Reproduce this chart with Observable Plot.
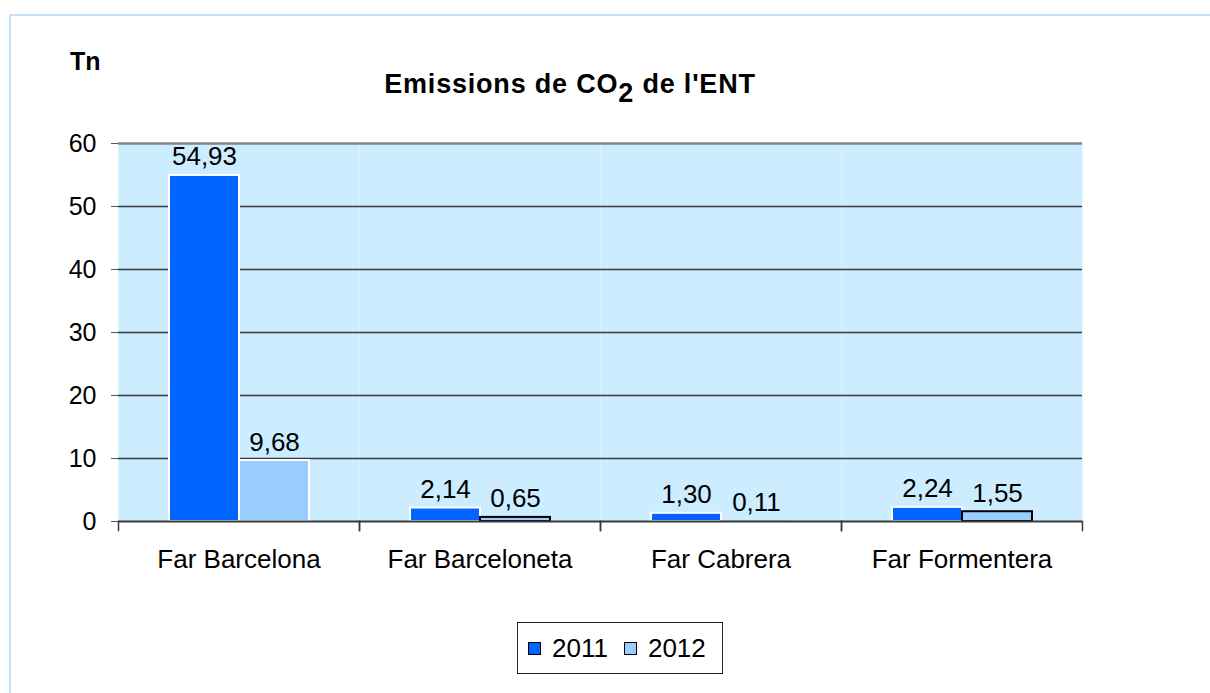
<!DOCTYPE html>
<html>
<head>
<meta charset="utf-8">
<script src="https://cdn.jsdelivr.net/npm/d3@7"></script>
<script src="https://cdn.jsdelivr.net/npm/@observablehq/plot@0.6"></script>
<style>
  html, body { margin: 0; padding: 0; background: #fff; overflow: hidden; }
  #wrap { position: relative; width: 1210px; height: 693px; font-family: "Liberation Sans", Arial, sans-serif; color: #000; }
  #border { position: absolute; left: 9px; top: 14px; width: 1400px; height: 900px; border-top: 2px solid #C4E1FF; border-left: 2px solid #C4E1FF; }
  #tn { position: absolute; left: 70px; top: 49px; font-size: 25px; font-weight: bold; line-height: 1; }
  #title { position: absolute; left: 0; width: 1140px; top: 71px; text-align: center; font-size: 27px; font-weight: bold; line-height: 1; letter-spacing: 0.8px; white-space: nowrap; }
  #title sub { font-size: 27px; vertical-align: -9px; line-height: 0; }
  #chart { position: absolute; left: 0; top: 0; }
  #legend { position: absolute; left: 517px; top: 622px; width: 204px; height: 50px; border: 1.5px solid #222; box-sizing: content-box; display: flex; align-items: center; font-size: 26px; }
  .item { display: flex; align-items: center; margin-left: 10px; }
  .item + .item { margin-left: 16px; }
  .sw { width: 11px; height: 11px; border: 1.5px solid #000; margin-right: 11px; }
</style>
</head>
<body>
<div id="wrap">
  <div id="border"></div>
  <div id="tn">Tn</div>
  <div id="title">Emissions de CO<sub>2</sub> de l'ENT</div>
  <div id="chart"></div>
  <div id="legend"></div>
</div>
<script>
const categories = ["Far Barcelona", "Far Barceloneta", "Far Cabrera", "Far Formentera"];
const years = ["2011", "2012"];
const values2011 = [54.93, 2.14, 1.30, 2.24];
const values2012 = [9.68, 0.65, 0.11, 1.55];
const yTicks = [0, 10, 20, 30, 40, 50, 60];
const colors = ["#0066FF", "#99CCFF"];

const data = categories.flatMap((c, i) => [
  {category: c, year: years[0], value: values2011[i]},
  {category: c, year: years[1], value: values2012[i]}
]);

const fmt = v => d3.format(".2f")(v).replace(".", ",");

const plot = Plot.plot({
  width: 1210,
  height: 600,
  marginTop: 143,
  marginBottom: 79,
  marginLeft: 117,
  marginRight: 127,
  style: {fontFamily: "'Liberation Sans', Arial, sans-serif", background: "transparent", color: "#000"},
  fx: {domain: categories, padding: 0, label: null},
  x: {domain: years, paddingInner: 0, paddingOuter: 0.7, axis: null},
  y: {domain: [0, 60], label: null, axis: null},
  color: {domain: years, range: colors},
  marks: [
    Plot.frame({fill: "#CCECFF", stroke: null}),
    Plot.ruleY(yTicks.filter(t => t > 0 && t < 60), {stroke: "#3a3a3a", strokeWidth: 1.5}),
    Plot.ruleY([60], {stroke: "#858585", strokeWidth: 2.5}),
    Plot.barY(data, {
      fx: "category", x: "year", y: "value", fill: "year",
      stroke: d => d.year === "2012" && d.value < 5 ? (d.value < 0.5 ? "none" : "#000") : "#fff",
      strokeWidth: 2
    }),
    Plot.text(data, {
      fx: "category", x: "year", y: "value", text: d => fmt(d.value),
      lineAnchor: "bottom", dy: -10, fontSize: 26, fill: "#000"
    }),
    Plot.ruleY([0], {stroke: "#3a3a3a", strokeWidth: 2}),
    Plot.frame({anchor: "left", stroke: "#3a3a3a", strokeWidth: 1.5, insetTop: 378, insetBottom: -9}),
    Plot.frame({anchor: "right", stroke: "#3a3a3a", strokeWidth: 1.5, insetTop: 378, insetBottom: -9}),
    Plot.axisY({ticks: yTicks, tickSize: 7, tickPadding: 15, fontSize: 25, stroke: "#555", tickFormat: d => String(d), label: null, line: true}),
    Plot.axisY({anchor: "right", ticks: [], tickSize: 0, label: null, line: true, stroke: "#858585", strokeWidth: 2.5}),
    Plot.axisFx({anchor: "bottom", tickSize: 0, tickPadding: 28, fontSize: 26, label: null})
  ]
});
document.getElementById("chart").appendChild(plot);

const legend = document.getElementById("legend");
years.forEach((y, i) => {
  const item = document.createElement("div");
  item.className = "item";
  const sw = document.createElement("div");
  sw.className = "sw";
  sw.style.background = colors[i];
  const t = document.createElement("span");
  t.textContent = y;
  item.appendChild(sw);
  item.appendChild(t);
  legend.appendChild(item);
});
</script>
</body>
</html>
